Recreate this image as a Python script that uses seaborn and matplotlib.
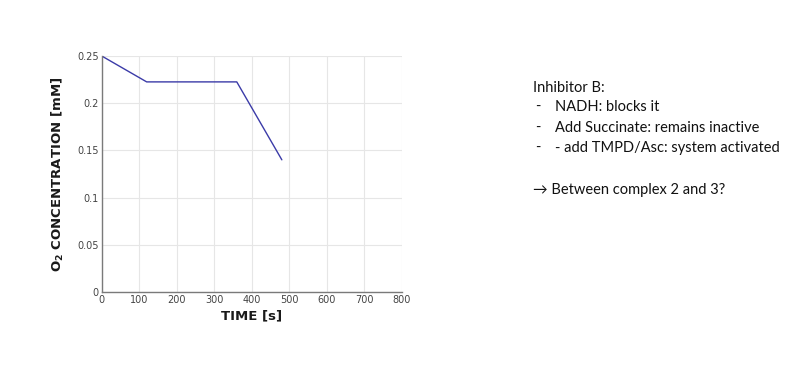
import matplotlib
matplotlib.use("Agg")
import matplotlib.pyplot as plt
import seaborn as sns
import pandas as pd

time_s = [0, 120, 360, 480]
o2_mM = [0.25, 0.2225, 0.2225, 0.14]
x_ticks = [0, 100, 200, 300, 400, 500, 600, 700, 800]
y_ticks = [0, 0.05, 0.1, 0.15, 0.2, 0.25]
y_tick_labels = ["0", "0.05", "0.1", "0.15", "0.2", "0.25"]
notes = [
    ("", "Inhibitor B:"),
    ("-", "NADH: blocks it"),
    ("-", "Add Succinate: remains inactive"),
    ("-", "- add TMPD/Asc: system activated"),
]
conclusion = "\u2192 Between complex 2 and 3?"

sns.set_theme(style="whitegrid")
plt.rcParams['font.family'] = ['DejaVu Sans']

fig = plt.figure(figsize=(8, 3.91), dpi=100)
ax = fig.add_axes([0.127, 0.253, 0.3755, 0.604])

df = pd.DataFrame({"t": time_s, "o2": o2_mM})
sns.lineplot(data=df, x="t", y="o2", ax=ax, color="#3b3ba8", linewidth=1.0,
             estimator=None, sort=False)

ax.set_xlim(0, 800)
ax.set_ylim(0, 0.25)
ax.set_xticks(x_ticks)
ax.set_xticklabels([str(v) for v in x_ticks])
ax.set_yticks(y_ticks)
ax.set_yticklabels(y_tick_labels)
ax.tick_params(axis="both", labelsize=7, colors="#444444", direction="in",
               length=3, width=0.8, pad=2)
ax.grid(True, color="#e6e6e6", linewidth=0.8)
for s in ["top", "right"]:
    ax.spines[s].set_visible(False)
for s in ["left", "bottom"]:
    ax.spines[s].set_color("#7a7a7a")
    ax.spines[s].set_linewidth(1.0)

ax.set_xlabel("TIME [s]", fontsize=9.5, fontweight="bold", color="#1a1a1a", labelpad=3)
ax.set_ylabel(r"$\mathbf{O_2}$ CONCENTRATION [mM]", fontsize=9.5, fontweight="bold",
              color="#1a1a1a", labelpad=8)

font = dict(family=["Lato", "DejaVu Sans"], fontsize=10.5, color="#111111", va="center")
ys = [88, 107, 128, 148]
for (dash, txt), yp in zip(notes, ys):
    yf = 1 - yp / 391
    if dash:
        fig.text(535 / 800, yf, dash, **font)
        fig.text(555 / 800, yf, txt, **font)
    else:
        fig.text(533 / 800, yf, txt, **font)
fig.text(533 / 800, 1 - 190 / 391, conclusion, **font)

fig.savefig("out.png", dpi=100, facecolor="white")
